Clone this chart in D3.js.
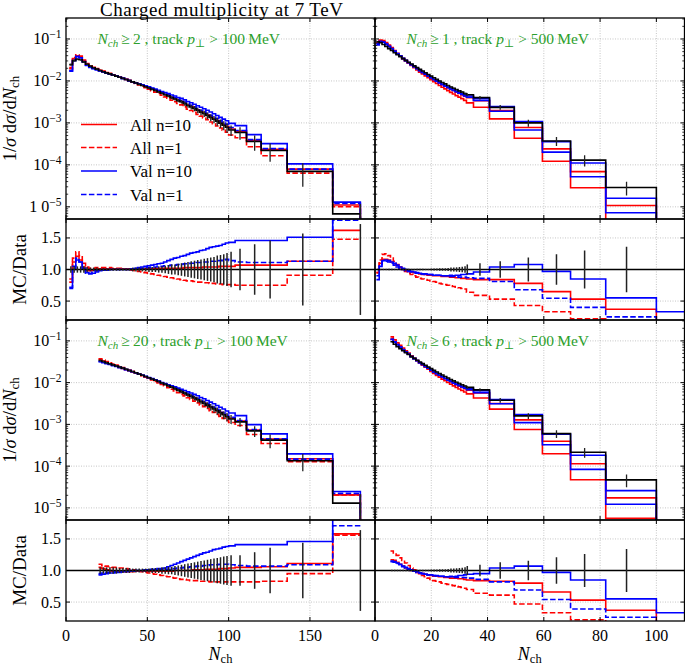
<!DOCTYPE html>
<html><head><meta charset="utf-8">
<script src="https://cdn.jsdelivr.net/npm/d3@7"></script>
<style>body{margin:0;background:#fff}svg{display:block;font-family:"Liberation Serif","DejaVu Serif",serif}</style>
</head><body><script>
// ---------------- DATA ----------------
// Top-left: Nch >= 2, pT > 100 MeV
const tlEdges=[2,4,6,8,10,12,14,16,18,20,22,24,26,28,30,32,34,36,38,40,42,44,46,48,50,52,54,56,58,60,62,64,66,68,70,72,74,76,78,80,82,84,86,88,90,92,94,96,98,100,104,111,120,136,164,181];
const tlNDense=49;
const tlData=[0.0245,0.0305,0.0330,0.0320,0.0285,0.0250,0.0225,0.0207,0.0191,0.0177,
0.0166,0.0156,0.0147,0.0138,0.0130,0.0122,0.0115,0.0108,0.0102,0.0095,
0.0089,0.0083,0.0078,0.0073,0.0068,0.0063,0.0059,0.0055,0.0051,0.0047,
0.0044,0.0040,0.0037,0.0034,0.0032,0.0029,0.0026,0.0024,0.0022,0.0020,
0.00181,0.00166,0.00150,0.00135,0.00122,0.00110,0.00098,0.00088,0.00079,
6.8e-4,5.9e-4,3.6e-4,2.2e-4,7.0e-5,6.8e-6];
const tlErr=[0.05,0.05,0.05,0.05,0.05,0.04,0.03,0.03,0.03,0.02,
0.02,0.02,0.02,0.02,0.02,0.02,0.02,0.02,0.02,0.03,
0.03,0.03,0.03,0.03,0.04,0.04,0.04,0.05,0.05,0.06,
0.07,0.08,0.08,0.09,0.10,0.11,0.12,0.13,0.14,0.15,
0.16,0.17,0.18,0.19,0.20,0.22,0.23,0.24,0.26,
0.28,0.33,0.40,0.46,0.57,0.72];
const tlErrXWide=[101.5,107,116,125.5,145.6,181];
const tlAllN10=[0.85,1.12,1.21,1.15,1.04,0.99,0.98,0.99,1.00,1.01,
1.01,1.01,1.01,1.01,1.01,1.01,1.01,1.01,1.01,1.01,
1.01,1.01,1.01,1.01,1.01,1.01,1.02,1.02,1.02,1.02,
1.02,1.02,1.02,1.02,1.02,1.03,1.03,1.03,1.03,1.03,
1.03,1.04,1.04,1.04,1.04,1.04,1.05,1.05,1.05,
1.05,1.07,1.07,1.07,1.13,1.62];
const tlAllN1=[0.80,1.18,1.28,1.22,1.10,1.04,1.02,1.02,1.03,1.03,
1.03,1.03,1.03,1.02,1.02,1.02,1.01,1.01,1.00,0.99,
0.98,0.97,0.96,0.95,0.94,0.93,0.92,0.91,0.90,0.89,
0.88,0.87,0.86,0.85,0.84,0.83,0.82,0.82,0.81,0.80,
0.80,0.79,0.79,0.78,0.78,0.77,0.77,0.76,0.76,
0.76,0.75,0.75,0.75,0.91,1.48];
const tlValN10=[0.70,1.00,1.15,1.12,1.02,0.95,0.93,0.94,0.96,0.98,
0.99,0.99,1.00,1.00,1.00,1.00,1.00,1.00,1.00,1.01,
1.02,1.03,1.04,1.05,1.06,1.07,1.08,1.09,1.10,1.12,
1.14,1.16,1.18,1.19,1.21,1.22,1.24,1.26,1.27,1.28,
1.30,1.31,1.33,1.35,1.36,1.37,1.38,1.40,1.42,
1.43,1.46,1.46,1.46,1.51,1.90];
const tlValN1=[0.72,1.05,1.18,1.12,1.00,0.94,0.94,0.96,0.98,0.99,
1.00,1.00,1.00,1.00,1.00,1.00,1.00,1.00,1.00,1.01,
1.01,1.02,1.02,1.03,1.03,1.04,1.04,1.05,1.05,1.06,
1.06,1.07,1.07,1.08,1.08,1.09,1.09,1.10,1.10,1.11,
1.11,1.12,1.12,1.13,1.13,1.14,1.14,1.15,1.16,
1.14,1.12,1.11,1.11,1.13,1.78];

// Bottom-left: Nch >= 20, pT > 100 MeV
const blEdges=[20,22,24,26,28,30,32,34,36,38,40,42,44,46,48,50,52,54,56,58,60,62,64,66,68,70,72,74,76,78,80,82,84,86,88,90,92,94,96,98,100,104,111,120,136,164,181];
const blNDense=40;
const blData=[0.0340,0.0320,0.0300,0.0283,0.0266,0.0251,0.0236,0.0222,0.0209,0.0196,
0.0184,0.0172,0.0161,0.0150,0.0140,0.0131,0.0122,0.0114,0.0106,0.0098,
0.0091,0.0084,0.0078,0.0072,0.0066,0.0061,0.0056,0.0051,0.0047,0.0043,
0.0039,0.0035,0.0032,0.0029,0.0026,0.00235,0.00212,0.00190,0.00170,0.00152,
1.35e-3,1.15e-3,7.0e-4,4.2e-4,1.35e-4,1.3e-5];
const blErr=[0.05,0.05,0.05,0.05,0.05,0.05,0.04,0.04,0.04,0.04,
0.03,0.03,0.03,0.03,0.03,0.03,0.04,0.04,0.04,0.05,
0.05,0.06,0.06,0.07,0.08,0.09,0.10,0.11,0.12,0.13,
0.14,0.15,0.16,0.17,0.18,0.19,0.20,0.21,0.22,0.23,
0.24,0.24,0.29,0.36,0.44,0.64];
const blErrXWide=[101.5,107,116,125.5,145.6,181];
const blAllN10=[1.05,1.03,1.01,1.00,0.99,0.98,0.98,0.98,0.98,0.98,
0.98,0.99,0.99,0.99,0.99,0.99,0.99,0.99,0.99,0.99,
0.99,0.99,0.99,1.00,1.00,1.00,1.00,1.00,1.00,1.01,
1.01,1.01,1.01,1.02,1.02,1.02,1.02,1.03,1.03,1.03,
1.04,1.05,1.05,1.06,1.11,1.58];
const blAllN1=[1.10,1.08,1.07,1.06,1.05,1.05,1.04,1.04,1.03,1.02,
1.01,1.00,0.99,0.98,0.97,0.96,0.95,0.94,0.93,0.92,
0.91,0.90,0.89,0.88,0.87,0.86,0.86,0.85,0.84,0.84,
0.84,0.83,0.83,0.83,0.82,0.82,0.82,0.82,0.82,0.82,
0.82,0.82,0.82,0.83,0.95,1.56];
const blValN10=[0.93,0.94,0.95,0.96,0.96,0.97,0.97,0.98,0.98,0.99,
0.99,1.00,1.00,1.00,1.01,1.01,1.02,1.02,1.03,1.03,
1.04,1.06,1.08,1.10,1.12,1.14,1.16,1.18,1.20,1.22,
1.24,1.26,1.28,1.29,1.31,1.33,1.34,1.35,1.37,1.38,
1.39,1.41,1.41,1.41,1.46,1.90];
const blValN1=[0.95,0.96,0.97,0.97,0.98,0.98,0.99,0.99,0.99,1.00,
1.00,1.00,1.00,1.00,1.00,1.00,1.00,1.01,1.01,1.01,
1.02,1.02,1.03,1.03,1.04,1.04,1.05,1.05,1.06,1.06,
1.07,1.07,1.08,1.08,1.09,1.09,1.09,1.10,1.10,1.10,
1.09,1.08,1.07,1.07,1.09,1.71];

// Top-right: Nch >= 1, pT > 500 MeV
const trEdges=[0.5,1.5,2.5,3.5,4.5,5.5,6.5,7.5,8.5,9.5,10.5,11.5,12.5,13.5,14.5,15.5,16.5,17.5,18.5,19.5,20.5,21.5,22.5,23.5,24.5,25.5,26.5,27.5,28.5,29.5,30.5,31.5,32.5,35,40.7,49.5,59.5,69.5,82,100,125];
const trNDense=32;
const trData=[0.086,0.082,0.074,0.066,0.059,0.053,0.047,0.042,0.038,0.034,
0.031,0.028,0.0253,0.0229,0.0208,0.0189,0.0172,0.0157,0.0143,0.0130,
0.0119,0.0109,0.0100,0.0092,0.0085,0.0078,0.0072,0.0067,0.0062,0.0058,
0.0054,0.0050,
0.0047,0.0040,0.00235,0.00100,3.7e-4,1.3e-4,2.9e-5,null];
const trErr=[0.01,0.01,0.01,0.01,0.01,0.01,0.01,0.01,0.01,0.01,
0.01,0.01,0.01,0.01,0.01,0.01,0.01,0.01,0.01,0.015,
0.015,0.015,0.02,0.02,0.02,0.025,0.03,0.03,0.035,0.04,
0.045,0.05,
0.08,0.10,0.13,0.19,0.24,0.30,0.36,null];
const trErrXWide=[32.8,37.3,44.5,54.5,64.5,74.5,89.4,null];
const trAllN10=[0.95,1.10,1.16,1.16,1.15,1.12,1.09,1.06,1.03,1.01,
0.99,0.97,0.96,0.95,0.94,0.93,0.92,0.92,0.91,0.91,
0.90,0.90,0.90,0.89,0.89,0.89,0.88,0.88,0.87,0.87,
0.86,0.86,
0.85,0.84,0.84,0.78,0.65,0.53,0.37,0.10];
const trAllN1=[0.95,1.15,1.24,1.25,1.22,1.18,1.13,1.08,1.04,1.00,
0.97,0.94,0.92,0.90,0.88,0.86,0.85,0.84,0.83,0.82,
0.81,0.80,0.78,0.77,0.76,0.75,0.74,0.73,0.72,0.71,
0.70,0.69,
0.64,0.59,0.53,0.43,0.33,0.22,0.12,0.05];
const trValN10=[0.84,1.05,1.14,1.15,1.14,1.12,1.10,1.07,1.04,1.02,
1.00,0.98,0.97,0.96,0.95,0.94,0.93,0.93,0.92,0.92,
0.91,0.91,0.91,0.90,0.90,0.90,0.91,0.90,0.91,0.91,
0.92,0.92,
0.93,0.96,1.04,1.08,0.97,0.85,0.55,0.33];
const trValN1=[0.90,1.08,1.13,1.13,1.12,1.10,1.07,1.04,1.02,1.00,
0.98,0.97,0.96,0.95,0.94,0.93,0.93,0.92,0.92,0.92,
0.91,0.91,0.91,0.90,0.90,0.90,0.89,0.89,0.89,0.88,
0.88,0.88,
0.87,0.86,0.81,0.68,0.545,0.40,0.25,0.10];

// Bottom-right: Nch >= 6, pT > 500 MeV
const brEdges=[5.5,6.5,7.5,8.5,9.5,10.5,11.5,12.5,13.5,14.5,15.5,16.5,17.5,18.5,19.5,20.5,21.5,22.5,23.5,24.5,25.5,26.5,27.5,28.5,29.5,30.5,31.5,32.5,35,40.7,49.5,59.5,69.5,82,100,125];
const brNDense=27;
const brData=[0.095,0.083,0.073,0.065,0.058,0.052,0.047,0.042,0.038,0.0345,
0.0313,0.0285,0.0260,0.0237,0.0216,0.0197,0.0180,0.0165,0.0152,0.0140,
0.0129,0.0119,0.0110,0.0102,0.0095,0.0089,0.0083,
0.0077,0.0067,0.0038,0.0016,6.0e-4,2.15e-4,4.7e-5,null];
const brErr=[0.01,0.01,0.01,0.01,0.01,0.01,0.01,0.01,0.01,0.01,
0.01,0.01,0.01,0.01,0.015,0.015,0.015,0.02,0.02,0.02,
0.025,0.03,0.03,0.035,0.04,0.045,0.05,
0.07,0.09,0.13,0.155,0.21,0.26,0.34,null];
const brErrXWide=[32.8,37.3,44.5,54.5,64.5,74.5,89.4,null];
const brAllN10=[1.17,1.16,1.13,1.10,1.07,1.04,1.02,1.00,0.99,0.97,
0.96,0.95,0.94,0.93,0.92,0.91,0.91,0.90,0.90,0.89,
0.89,0.88,0.88,0.88,0.87,0.87,0.86,
0.85,0.84,0.83,0.80,0.66,0.53,0.37,0.10];
const brAllN1=[1.31,1.28,1.24,1.20,1.16,1.12,1.08,1.04,1.01,0.98,
0.95,0.92,0.90,0.88,0.86,0.84,0.83,0.82,0.80,0.79,
0.78,0.77,0.76,0.75,0.74,0.73,0.72,
0.70,0.64,0.61,0.47,0.33,0.22,0.12,0.05];
const brValN10=[1.15,1.14,1.12,1.10,1.07,1.05,1.03,1.01,0.99,0.98,
0.96,0.95,0.94,0.93,0.93,0.92,0.92,0.91,0.91,0.90,
0.90,0.91,0.90,0.91,0.92,0.92,0.93,
0.94,0.95,1.04,1.07,0.97,0.85,0.55,0.33];
const brValN1=[1.14,1.13,1.11,1.09,1.06,1.04,1.02,1.00,0.99,0.97,
0.96,0.95,0.94,0.93,0.92,0.92,0.91,0.91,0.91,0.90,
0.90,0.90,0.89,0.89,0.89,0.89,0.89,
0.88,0.86,0.82,0.69,0.54,0.39,0.26,0.10];

const seriesNames=["All n=10","All n=1","Val n=10","Val n=1"];
const mainTicks=[-1,-2,-3,-4,-5];
const ratioTicks=[0.5,1.0,1.5];
const leftXTicks=[0,50,100,150];
const rightXTicks=[0,20,40,60,80,100];

// ---------------- LAYOUT ----------------
const W=685,H=665;
const svg=d3.select("body").append("svg").attr("width",W).attr("height",H);
const RED="#ff0000",BLUE="#0000ff",GREEN="#2ca02c",DASH="5.5,2.4";
const styles=[{c:RED,d:null},{c:RED,d:DASH},{c:BLUE,d:null},{c:BLUE,d:DASH}];
const COLS=[{x0:66,x1:375,dom:[0,190],ticks:leftXTicks},{x0:375,x1:684.5,dom:[0,110],ticks:rightXTicks}];
const ROWS=[{m0:18,m1:219,r1:320},{m0:320,m1:520,r1:621}];
const YLOG=[Math.pow(10,-5.29),Math.pow(10,-0.5)];
const TICKFS=16;

const panels=[
 {c:0,r:0,edges:tlEdges,nd:tlNDense,data:tlData,err:tlErr,ex:tlErrXWide,mc:[tlAllN10,tlAllN1,tlValN10,tlValN1],nmin:"2",pt:"100",legend:true,oddTick:true,mainDash:true},
 {c:1,r:0,edges:trEdges,nd:trNDense,data:trData,err:trErr,ex:trErrXWide,mc:[trAllN10,trAllN1,trValN10,trValN1],nmin:"1",pt:"500",mainDash:false},
 {c:0,r:1,edges:blEdges,nd:blNDense,data:blData,err:blErr,ex:blErrXWide,mc:[blAllN10,blAllN1,blValN10,blValN1],nmin:"20",pt:"100",mainDash:true},
 {c:1,r:1,edges:brEdges,nd:brNDense,data:brData,err:brErr,ex:brErrXWide,mc:[brAllN10,brAllN1,brValN10,brValN1],nmin:"6",pt:"500",mainDash:false}
];

function segments(edges,vals){
  const segs=[];let cur=null;
  vals.forEach((v,i)=>{
    if(v==null){cur=null;return;}
    if(!cur){cur=[];segs.push(cur);}
    cur.push([edges[i],v],[edges[i+1],v]);
  });
  return segs;
}
let clipId=0;
function makeClip(x0,y0,x1,y1){
  const id="clip"+(clipId++);
  svg.append("clipPath").attr("id",id).append("rect").attr("x",x0).attr("y",y0).attr("width",x1-x0).attr("height",y1-y0);
  return "url(#"+id+")";
}
function grid(g,x,y,xt,yt,x0,x1,y0,y1){
  xt.forEach(t=>{const px=x(t);if(px>x0+1&&px<x1-1)g.append("line").attr("x1",px).attr("x2",px).attr("y1",y0).attr("y2",y1).attr("stroke","#b8b8b8").attr("stroke-width",0.8).attr("stroke-dasharray","1,1.5");});
  yt.forEach(t=>{const py=y(t);g.append("line").attr("x1",x0).attr("x2",x1).attr("y1",py).attr("y2",py).attr("stroke","#b8b8b8").attr("stroke-width",0.8).attr("stroke-dasharray","1,1.5");});
}
function tickMarks(g,x0,x1,y0,y1,xs,ys,ysMinor){
  const T=4,t=2.2;
  xs.forEach(px=>{ if(px<x0-0.5||px>x1+0.5)return;
    g.append("line").attr("x1",px).attr("x2",px).attr("y1",y1).attr("y2",y1-T).attr("stroke","#000");
    g.append("line").attr("x1",px).attr("x2",px).attr("y1",y0).attr("y2",y0+T).attr("stroke","#000");});
  ys.forEach(py=>{
    g.append("line").attr("x1",x0).attr("x2",x0+T).attr("y1",py).attr("y2",py).attr("stroke","#000");
    g.append("line").attr("x1",x1).attr("x2",x1-T).attr("y1",py).attr("y2",py).attr("stroke","#000");});
  (ysMinor||[]).forEach(py=>{
    g.append("line").attr("x1",x0).attr("x2",x0+t).attr("y1",py).attr("y2",py).attr("stroke","#000").attr("stroke-width",0.8);
    g.append("line").attr("x1",x1).attr("x2",x1-t).attr("y1",py).attr("y2",py).attr("stroke","#000").attr("stroke-width",0.8);});
}

panels.forEach(p=>{
  const C=COLS[p.c],R=ROWS[p.r];
  const x=d3.scaleLinear().domain(C.dom).range([C.x0,C.x1]);
  const ym=d3.scaleLog().domain(YLOG).range([R.m1,R.m0]);
  const yr=d3.scaleLinear().domain([0.2,1.8]).range([R.r1,R.m1]);
  const g=svg.append("g");
  const decades=mainTicks.map(e=>Math.pow(10,e));
  const minors=[];
  for(let e=-6;e<=0;e++)for(let k=2;k<=9;k++){const v=k*Math.pow(10,e);if(v>YLOG[0]&&v<YLOG[1])minors.push(ym(v));}
  grid(g,x,ym,C.ticks,decades,C.x0,C.x1,R.m0,R.m1);
  grid(g,x,yr,C.ticks,ratioTicks,C.x0,C.x1,R.m1,R.r1);
  // main panel
  const gm=g.append("g").attr("clip-path",makeClip(C.x0,R.m0,C.x1,R.m1));
  const lineM=d3.line().x(d=>x(d[0])).y(d=>ym(Math.max(d[1],1e-12)));
  const withDrop=segs=>{ if(segs.length){const last=segs[segs.length-1];last.push([last[last.length-1][0],1e-12]);} return segs;};
  p.mc.forEach((ratio,k)=>{
    const vals=p.data.map((v,i)=>v==null||ratio[i]==null?null:v*ratio[i]);
    withDrop(segments(p.edges,vals)).forEach(s=>gm.append("path").attr("d",lineM(s)).attr("fill","none").attr("stroke",styles[k].c).attr("stroke-width",1.6).attr("stroke-dasharray",p.mainDash?styles[k].d:null));
  });
  withDrop(segments(p.edges,p.data)).forEach(s=>gm.append("path").attr("d",lineM(s)).attr("fill","none").attr("stroke","#000").attr("stroke-width",1.6));
  const errX=i=> i<p.nd ? (p.edges[i]+p.edges[i+1])/2 : p.ex[i-p.nd];
  p.data.forEach((v,i)=>{ if(v==null||p.err[i]==null)return; const e=p.err[i];
    gm.append("line").attr("x1",x(errX(i))).attr("x2",x(errX(i))).attr("y1",ym(v*(1-e))).attr("y2",ym(v*(1+e))).attr("stroke","#222").attr("stroke-width",1.3);});
  // ratio panel
  const gr=g.append("g").attr("clip-path",makeClip(C.x0,R.m1,C.x1,R.r1));
  const lineR=d3.line().x(d=>x(d[0])).y(d=>yr(d[1]));
  p.mc.forEach((ratio,k)=>{
    segments(p.edges,ratio).forEach(s=>gr.append("path").attr("d",lineR(s)).attr("fill","none").attr("stroke",styles[k].c).attr("stroke-width",1.6).attr("stroke-dasharray",styles[k].d));
  });
  gr.append("line").attr("x1",C.x0).attr("x2",C.x1).attr("y1",yr(1)).attr("y2",yr(1)).attr("stroke","#000").attr("stroke-width",1.5);
  p.data.forEach((v,i)=>{ if(v==null||p.err[i]==null)return; const e=p.err[i];
    gr.append("line").attr("x1",x(errX(i))).attr("x2",x(errX(i))).attr("y1",yr(1-e)).attr("y2",yr(1+e)).attr("stroke","#222").attr("stroke-width",1.5);});
  tickMarks(g,C.x0,C.x1,R.m0,R.m1,C.ticks.map(x),decades.map(ym),minors);
  tickMarks(g,C.x0,C.x1,R.m1,R.r1,C.ticks.map(x),ratioTicks.map(yr),[]);
  g.append("rect").attr("x",C.x0).attr("y",R.m0).attr("width",C.x1-C.x0).attr("height",R.m1-R.m0).attr("fill","none").attr("stroke","#000").attr("stroke-width",1.3);
  g.append("rect").attr("x",C.x0).attr("y",R.m1).attr("width",C.x1-C.x0).attr("height",R.r1-R.m1).attr("fill","none").attr("stroke","#000").attr("stroke-width",1.3);
  if(p.c===0){
    mainTicks.forEach(e=>{
      const t=g.append("text").attr("x",61.5).attr("y",ym(Math.pow(10,e))+5.5).attr("text-anchor","end").attr("font-size",TICKFS);
      t.append("tspan").text(p.oddTick&&e===-5?"1 0":"10");
      t.append("tspan").attr("dy",-6.5).attr("font-size",11.5).text("\u2212"+(-e));
    });
    ratioTicks.forEach(v=>g.append("text").attr("x",61).attr("y",yr(v)+5.5).attr("text-anchor","end").attr("font-size",TICKFS).text(v.toFixed(1)));
  }
  if(p.r===1){
    C.ticks.forEach(t=>g.append("text").attr("x",x(t)).attr("y",R.r1+19.5).attr("text-anchor","middle").attr("font-size",TICKFS).text(t));
    const xl=g.append("text").attr("x",(C.x0+C.x1)/2).attr("y",660).attr("text-anchor","middle").attr("font-size",18);
    xl.append("tspan").attr("font-style","italic").text("N");
    xl.append("tspan").attr("dy",3).attr("font-size",12.5).text("ch");
  }
  const gt=g.append("text").attr("x",C.x0+31.5).attr("y",R.m0+26).attr("font-size",15.5).attr("fill",GREEN);
  gt.append("tspan").attr("font-style","italic").text("N");
  gt.append("tspan").attr("font-style","italic").attr("font-size",11).attr("dy",3).text("ch");
  gt.append("tspan").attr("dy",-3).text("\u2009\u2265\u2009"+p.nmin+" , track ");
  gt.append("tspan").attr("font-style","italic").text("p");
  gt.append("tspan").attr("font-size",11).attr("dy",3).text("\u22a5");
  gt.append("tspan").attr("dy",-3).text(" > "+p.pt+"\u2009MeV");
  if(p.legend){
    const ly=[124.5,147.5,171,194.5];
    seriesNames.forEach((n,k)=>{
      g.append("line").attr("x1",81).attr("x2",117).attr("y1",ly[k]).attr("y2",ly[k]).attr("stroke",styles[k].c).attr("stroke-width",1.6).attr("stroke-dasharray",styles[k].d);
      g.append("text").attr("x",130).attr("y",ly[k]+6).attr("font-size",17).text(n);
    });
  }
  if(p.c===0){
    const cyM=(R.m0+R.m1)/2, cyR=(R.m1+R.r1)/2;
    const yl=g.append("text").attr("transform",`translate(16,${cyM}) rotate(-90)`).attr("text-anchor","middle").attr("font-size",18.5);
    yl.append("tspan").text("1/");
    yl.append("tspan").attr("font-style","italic").text("\u03c3");
    yl.append("tspan").text(" d");
    yl.append("tspan").attr("font-style","italic").text("\u03c3");
    yl.append("tspan").text("/d");
    yl.append("tspan").attr("font-style","italic").text("N");
    yl.append("tspan").attr("font-size",13).attr("dy",3).text("ch");
    g.append("text").attr("transform",`translate(26,${cyR}) rotate(-90)`).attr("text-anchor","middle").attr("font-size",19).text("MC/Data");
  }
});
svg.append("text").attr("x",100).attr("y",16).attr("font-size",19).attr("textLength",243).attr("lengthAdjust","spacing").text("Charged multiplicity at 7\u2009TeV");
</script></body></html>
